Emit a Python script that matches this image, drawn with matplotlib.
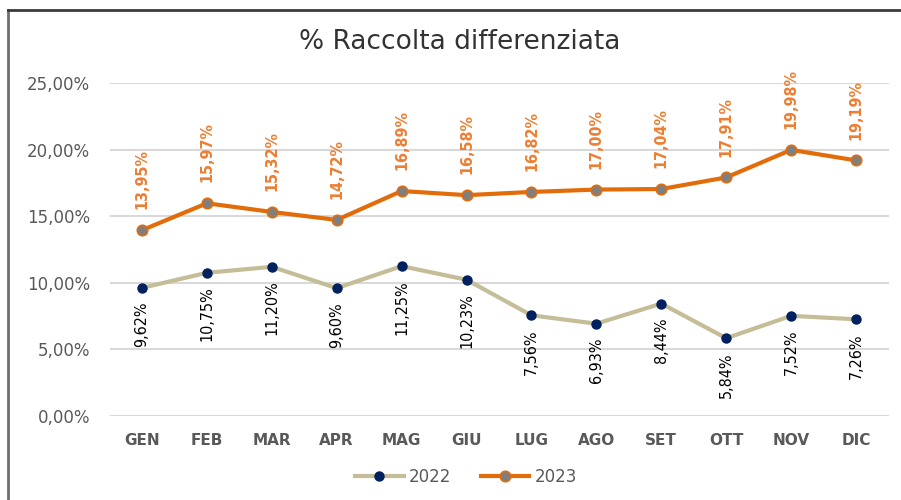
import matplotlib
matplotlib.use("Agg")
import matplotlib.pyplot as plt
from matplotlib.lines import Line2D

months = ["GEN", "FEB", "MAR", "APR", "MAG", "GIU", "LUG", "AGO", "SET", "OTT", "NOV", "DIC"]
v2022 = [9.62, 10.75, 11.20, 9.60, 11.25, 10.23, 7.56, 6.93, 8.44, 5.84, 7.52, 7.26]
v2023 = [13.95, 15.97, 15.32, 14.72, 16.89, 16.58, 16.82, 17.00, 17.04, 17.91, 19.98, 19.19]
yticks = [0, 5, 10, 15, 20, 25]

def fmt(v):
    return f"{v:.2f}".replace(".", ",") + "%"

plt.rcParams['font.family'] = ['DejaVu Sans']

fig = plt.figure(figsize=(9.01, 5.0), dpi=100)
ax = fig.add_axes([109.5 / 901, 1 - 416 / 500, (888.5 - 109.5) / 901, (416 - 83) / 500])

x = list(range(len(months)))
c22 = "#C4BD97"
c23 = "#E36C0A"

ax.plot(x, v2022, color=c22, lw=3, marker="o", ms=6.5, mfc="#002060", mec="#002060", zorder=3, label="2022")
ax.plot(x, v2023, color=c23, lw=3, marker="o", ms=7.5, mfc="#7F7F7F", mec=c23, mew=1.2, zorder=4, label="2023")

for xi, v in zip(x, v2023):
    ax.annotate(fmt(v), (xi, v), xytext=(0, 15), textcoords="offset points",
                rotation=90, ha="center", va="bottom", color="#ED7D31",
                fontsize=11.5, fontweight="bold", fontstretch="condensed")
for xi, v in zip(x, v2022):
    ax.annotate(fmt(v), (xi, v), xytext=(0, -10), textcoords="offset points",
                rotation=90, ha="center", va="top", color="#000000",
                fontsize=11.5, fontstretch="condensed")

ax.set_xlim(-0.5, 11.5)
ax.set_ylim(0, 25)
ax.set_yticks(yticks)
ax.set_yticklabels([f"{t:.2f}".replace(".", ",") + "%" for t in yticks],
                   fontsize=12, color="#595959")
ax.set_xticks(x)
ax.set_xticklabels(months, fontsize=11, color="#595959", fontweight="bold")
ax.tick_params(axis="both", length=0)
ax.tick_params(axis="y", pad=14)
ax.tick_params(axis="x", pad=12)
ax.grid(axis="y", color="#D9D9D9", lw=1.5)
ax.set_axisbelow(True)
for s in ax.spines.values():
    s.set_visible(False)

fig.text(460 / 901, 1 - 42 / 500, "% Raccolta differenziata", ha="center", va="center",
         fontsize=19, color="#333333")

leg = fig.legend(handles=ax.get_lines(), loc="center", bbox_to_anchor=(466 / 901, 1 - 477 / 500),
                 ncol=2, frameon=False, handlelength=2.9, handletextpad=0.3, columnspacing=1.8,
                 prop={'size': 12})
for t in leg.get_texts():
    t.set_color("#595959")

# frame lines (left and top)
fig.add_artist(Line2D([7.5 / 901, 7.5 / 901], [0, 1 - 10 / 500], transform=fig.transFigure,
                      color="#6F6F6F", lw=2))
fig.add_artist(Line2D([7.5 / 901, 1], [1 - 10 / 500, 1 - 10 / 500], transform=fig.transFigure,
                      color="#3A3A3A", lw=2))

fig.savefig("out.png", dpi=100)
